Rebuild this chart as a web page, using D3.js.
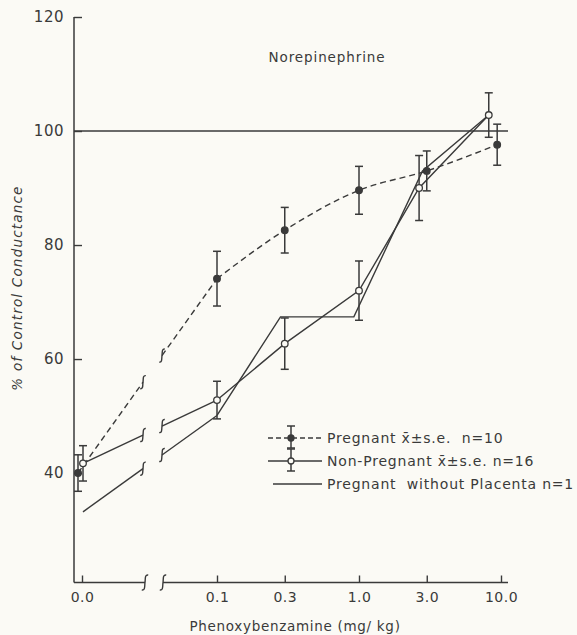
<!DOCTYPE html>
<html>
<head>
<meta charset="utf-8">
<script src="https://cdn.jsdelivr.net/npm/d3@7"></script>
<style>
  html, body { margin: 0; padding: 0; background: #fbfaf5; }
  svg { display: block; }
  text { font-family: "DejaVu Sans", sans-serif; fill: #3a3a3a; }
</style>
</head>
<body>
<svg id="chart" width="577" height="635"></svg>
<script>
// ---------------- data ----------------
const title = "Norepinephrine";
const xLabel = "Phenoxybenzamine (mg/ kg)";
const yLabel = "% of Control Conductance";
const yTicks = [40, 60, 80, 100, 120];
const xTickValues = [0, 0.1, 0.3, 1, 3, 10];
const xTickLabels = ["0.0", "0.1", "0.3", "1.0", "3.0", "10.0"];
const referenceValue = 100;

// Pregnant x̄ ± s.e., n=10 (dashed, filled markers)
const pregDose = [-0.04, 0.1, 0.3, 1.0, 3.0, 9.4];
const pregMean = [40.0, 74.1, 82.6, 89.6, 93.0, 97.6];
const pregSE   = [3.2, 4.8, 4.0, 4.2, 3.5, 3.6];

// Non-Pregnant x̄ ± s.e., n=16 (solid, open markers)
const npDose = [0.01, 0.1, 0.3, 1.0, 2.65, 8.2];
const npMean = [41.7, 52.8, 62.7, 72.0, 90.0, 102.8];
const npSE   = [3.1, 3.3, 4.5, 5.2, 5.7, 3.9];

// Pregnant without Placenta, n=1 (solid, no markers)
const plDose  = [0.01, 0.1, 0.28, 0.92, 2.8, 8.2];
const plValue = [33.2, 50.1, 67.4, 67.4, 93.0, 102.8];

const legendLabels = [
  "Pregnant x\u0304\u00B1s.e.  n=10",
  "Non-Pregnant x\u0304\u00B1s.e. n=16",
  "Pregnant  without Placenta n=1"
];

// ---------------- layout ----------------
const ink = "#3a3a3a";
const svg = d3.select("#chart");
const axisX0 = 74, axisX1 = 508;
const y = d3.scaleLinear().domain([20.8, 120]).range([582.5, 17]);
const xLog = d3.scaleLog().domain([0.1, 10]).range([217, 501]);
const xZero = d3.scaleLinear().domain([-0.1, 0.1]).range([72, 92]);
const X = d => (d < 0.05 ? xZero(d) : xLog(d));
const gapL = 143, gapR = 162;
const axisY = y.range()[0];

// squiggle break mark (ʃ)
function squiggle(g, cx, cy, h) {
  const s = h / 14;
  const p = d3.path();
  p.moveTo(cx + 3 * s, cy - 7 * s);
  p.bezierCurveTo(cx - 0.5 * s, cy - 7.5 * s, cx + 0.5 * s, cy - 3 * s, cx, cy);
  p.bezierCurveTo(cx - 0.5 * s, cy + 3 * s, cx + 0.5 * s, cy + 7.5 * s, cx - 3 * s, cy + 7 * s);
  g.append("path").attr("d", p.toString())
    .attr("fill", "none").attr("stroke", ink).attr("stroke-width", 1.4);
}

// ---------------- axes ----------------
const yAxis = d3.axisLeft(y).tickValues(yTicks).tickSizeInner(-8).tickSizeOuter(0).tickPadding(10)
  .tickFormat(d3.format("d"));
const gy = svg.append("g").attr("transform", `translate(${axisX0},0)`).call(yAxis);
gy.select(".domain").remove();
gy.selectAll(".tick line").attr("stroke", ink).attr("stroke-width", 1.4);
gy.selectAll(".tick text").attr("font-size", 15).attr("font-family", "DejaVu Sans").attr("fill", ink)
  .attr("letter-spacing", 0.5);
svg.append("line").attr("x1", axisX0).attr("x2", axisX0)
  .attr("y1", y(120)).attr("y2", axisY).attr("stroke", ink).attr("stroke-width", 1.5);

// x axis pieces
const fmtX = d => xTickLabels[xTickValues.indexOf(d)];
const gx0 = svg.append("g").attr("transform", `translate(0,${axisY})`)
  .call(d3.axisBottom(xZero).tickValues([0]).tickSizeInner(-7).tickSizeOuter(0).tickPadding(10).tickFormat(fmtX));
const gx1 = svg.append("g").attr("transform", `translate(0,${axisY})`)
  .call(d3.axisBottom(xLog).tickValues(xTickValues.slice(1)).tickSizeInner(-7).tickSizeOuter(0).tickPadding(10).tickFormat(fmtX));
[gx0, gx1].forEach(g => {
  g.select(".domain").remove();
  g.selectAll(".tick line").attr("stroke", ink).attr("stroke-width", 1.4);
  g.selectAll(".tick text").attr("font-size", 14).attr("font-family", "DejaVu Sans").attr("fill", ink)
    .attr("letter-spacing", 0.5);
});
svg.append("line").attr("x1", axisX0).attr("x2", gapL + 2).attr("y1", axisY).attr("y2", axisY)
  .attr("stroke", ink).attr("stroke-width", 1.5);
svg.append("line").attr("x1", gapR + 1).attr("x2", axisX1).attr("y1", axisY).attr("y2", axisY)
  .attr("stroke", ink).attr("stroke-width", 1.5);
squiggle(svg, gapL + 2, axisY, 15);
squiggle(svg, gapR + 1, axisY, 15);

// reference line at 100
svg.append("line").attr("x1", axisX0).attr("x2", axisX1)
  .attr("y1", y(referenceValue)).attr("y2", y(referenceValue))
  .attr("stroke", ink).attr("stroke-width", 1.4);

// labels
svg.append("text").attr("x", 327).attr("y", 62).attr("text-anchor", "middle")
  .attr("font-size", 13.5).attr("letter-spacing", 0.9).text(title);
svg.append("text").attr("x", 295).attr("y", 631).attr("text-anchor", "middle")
  .attr("font-size", 13.5).attr("letter-spacing", 0.7).text(xLabel);
svg.append("text").attr("transform", "translate(22,288) rotate(-90)").attr("text-anchor", "middle")
  .attr("font-size", 13.5).attr("font-style", "italic").attr("letter-spacing", 1.2).text(yLabel);

// ---------------- series ----------------
function drawSeries(dose, vals, opts) {
  const pts = dose.map((d, i) => [X(d), y(vals[i])]);
  const g = svg.append("g");
  const stroke = g => g.attr("fill", "none").attr("stroke", ink).attr("stroke-width", 1.4)
    .attr("stroke-dasharray", opts.dash || null);
  // first (broken) segment: straight line from zero point to 0.1 with a gap
  const [p0, p1] = [pts[0], pts[1]];
  const yAt = xx => p0[1] + (p1[1] - p0[1]) * (xx - p0[0]) / (p1[0] - p0[0]);
  g.append("path").attr("d", d3.line()([p0, [gapL, yAt(gapL)]])).call(stroke);
  g.append("path").attr("d", d3.line()([[gapR, yAt(gapR)], p1])).call(stroke);
  squiggle(g, gapL, yAt(gapL), 13);
  squiggle(g, gapR, yAt(gapR), 13);
  // remaining segments
  g.append("path").attr("d", d3.line().curve(opts.curve || d3.curveLinear)(pts.slice(1))).call(stroke);
  return pts;
}

function drawErrors(dose, mean, se, filled) {
  const g = svg.append("g");
  dose.forEach((d, i) => {
    const cx = X(d), top = y(mean[i] + se[i]), bot = y(mean[i] - se[i]);
    g.append("line").attr("x1", cx).attr("x2", cx).attr("y1", top).attr("y2", bot)
      .attr("stroke", ink).attr("stroke-width", 1.5);
    [top, bot].forEach(yy => g.append("line").attr("x1", cx - 4).attr("x2", cx + 4)
      .attr("y1", yy).attr("y2", yy).attr("stroke", ink).attr("stroke-width", 1.5));
    g.append("circle").attr("cx", cx).attr("cy", y(mean[i])).attr("r", 3.3)
      .attr("fill", filled ? ink : "#fbfaf5").attr("stroke", ink).attr("stroke-width", 1.3);
  });
}

drawSeries(plDose, plValue, {});
drawSeries(npDose, npMean, {});
drawSeries(pregDose, pregMean, { dash: "6,4", curve: d3.curveMonotoneX });
drawErrors(npDose, npMean, npSE, false);
drawErrors(pregDose, pregMean, pregSE, true);

// ---------------- legend ----------------
const lg = svg.append("g");
const rowsY = [438, 461, 484];
const lx0 = 268, lx1 = 322, lmid = 291;
// row 1: dashed with filled marker
lg.append("line").attr("x1", lx0).attr("x2", lx1).attr("y1", rowsY[0]).attr("y2", rowsY[0])
  .attr("stroke", ink).attr("stroke-width", 1.4).attr("stroke-dasharray", "5,3");
// row 2: solid with open marker
lg.append("line").attr("x1", lx0).attr("x2", lx1).attr("y1", rowsY[1]).attr("y2", rowsY[1])
  .attr("stroke", ink).attr("stroke-width", 1.4);
[[rowsY[0], true], [rowsY[1], false]].forEach(([yy, filled]) => {
  lg.append("line").attr("x1", lmid).attr("x2", lmid).attr("y1", yy - 12).attr("y2", yy + 10)
    .attr("stroke", ink).attr("stroke-width", 1.5);
  [yy - 12, yy + 10].forEach(v => lg.append("line").attr("x1", lmid - 4).attr("x2", lmid + 4)
    .attr("y1", v).attr("y2", v).attr("stroke", ink).attr("stroke-width", 1.5));
  lg.append("circle").attr("cx", lmid).attr("cy", yy).attr("r", 3)
    .attr("fill", filled ? ink : "#fbfaf5").attr("stroke", ink).attr("stroke-width", 1.3);
});
// row 3: plain solid
lg.append("line").attr("x1", 273).attr("x2", lx1).attr("y1", rowsY[2]).attr("y2", rowsY[2])
  .attr("stroke", ink).attr("stroke-width", 1.4);
legendLabels.forEach((t, i) => {
  lg.append("text").attr("x", 327).attr("y", rowsY[i]).attr("dy", "0.35em")
    .style("white-space", "pre")
    .attr("font-size", 14).attr("letter-spacing", 0.8).text(t);
});
</script>
</body>
</html>
